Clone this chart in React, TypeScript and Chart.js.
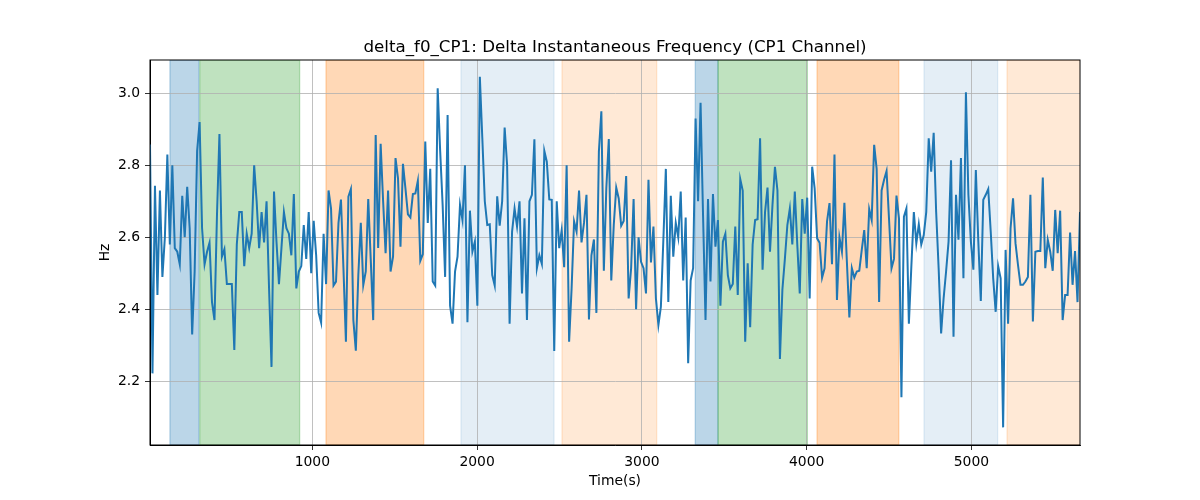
import { useEffect, useRef } from "react";
import { Chart, registerables } from "chart.js";

Chart.register(...registerables);

// sampling of the delta f0 series (seconds)
const T0 = 15;
const DT = 15.05;

const DELTA_F0 = [
    2.858, 2.222, 2.743, 2.44, 2.73, 2.49, 2.6, 2.83, 2.58, 2.8,
    2.57, 2.56, 2.525, 2.715, 2.6, 2.74, 2.625, 2.33, 2.505, 2.84,
    2.92, 2.625, 2.525, 2.56, 2.585, 2.42, 2.37, 2.66, 2.887, 2.546,
    2.567, 2.47, 2.47, 2.47, 2.287, 2.58, 2.67, 2.67, 2.52, 2.61,
    2.57, 2.61, 2.8, 2.7, 2.57, 2.67, 2.586, 2.7, 2.46, 2.24,
    2.727, 2.588, 2.47, 2.57, 2.67, 2.625, 2.61, 2.55, 2.72, 2.458,
    2.505, 2.52, 2.634, 2.54, 2.67, 2.5, 2.646, 2.55, 2.39, 2.363,
    2.61, 2.47, 2.73, 2.68, 2.466, 2.477, 2.64, 2.705, 2.514, 2.31,
    2.713, 2.734, 2.37, 2.285, 2.495, 2.64, 2.467, 2.505, 2.706, 2.54,
    2.37, 2.884, 2.57, 2.86, 2.7, 2.556, 2.73, 2.505, 2.546, 2.82,
    2.764, 2.574, 2.804, 2.736, 2.664, 2.655, 2.72, 2.722, 2.757, 2.535,
    2.553, 2.866, 2.64, 2.79, 2.477, 2.466, 3.014, 2.84, 2.69, 2.49,
    2.94, 2.41, 2.36, 2.505, 2.546, 2.69, 2.648, 2.8, 2.364, 2.674,
    2.56, 2.588, 2.41, 3.046, 2.875, 2.7, 2.634, 2.636, 2.495, 2.466,
    2.714, 2.632, 2.7, 2.905, 2.8, 2.36, 2.616, 2.68, 2.63, 2.7,
    2.444, 2.653, 2.37, 2.7, 2.718, 2.872, 2.514, 2.55, 2.526, 2.84,
    2.81, 2.705, 2.704, 2.284, 2.7, 2.57, 2.62, 2.517, 2.8, 2.31,
    2.458, 2.644, 2.616, 2.73, 2.586, 2.64, 2.718, 2.372, 2.55, 2.594,
    2.39, 2.838, 2.95, 2.507, 2.736, 2.873, 2.48, 2.634, 2.738, 2.708,
    2.632, 2.645, 2.77, 2.43, 2.514, 2.706, 2.4, 2.6, 2.532, 2.514,
    2.444, 2.76, 2.53, 2.63, 2.43, 2.356, 2.407, 2.593, 2.79, 2.42,
    2.715, 2.546, 2.64, 2.6, 2.727, 2.48, 2.655, 2.25, 2.48, 2.514,
    2.93, 2.7, 2.974, 2.662, 2.37, 2.706, 2.477, 2.72, 2.574, 2.648,
    2.41, 2.588, 2.61, 2.495, 2.458, 2.47, 2.63, 2.44, 2.762, 2.73,
    2.31, 2.528, 2.35, 2.58, 2.648, 2.65, 2.875, 2.51, 2.67, 2.738,
    2.56, 2.69, 2.796, 2.73, 2.262, 2.455, 2.54, 2.634, 2.68, 2.58,
    2.727, 2.58, 2.444, 2.706, 2.61, 2.71, 2.43, 2.796, 2.736, 2.597,
    2.585, 2.488, 2.514, 2.644, 2.695, 2.525, 2.83, 2.426, 2.6, 2.56,
    2.696, 2.532, 2.377, 2.514, 2.488, 2.505, 2.507, 2.565, 2.62, 2.514,
    2.678, 2.648, 2.857, 2.79, 2.42, 2.73, 2.76, 2.784, 2.65, 2.514,
    2.54, 2.716, 2.653, 2.156, 2.657, 2.68, 2.36, 2.52, 2.67, 2.583,
    2.636, 2.58, 2.606, 2.67, 2.875, 2.782, 2.89, 2.67, 2.514, 2.333,
    2.43, 2.505, 2.588, 2.814, 2.324, 2.718, 2.593, 2.82, 2.486, 3.003,
    2.718, 2.588, 2.51, 2.787, 2.588, 2.423, 2.704, 2.718, 2.734, 2.616,
    2.486, 2.393, 2.52, 2.486, 2.072, 2.565, 2.36, 2.625, 2.708, 2.583,
    2.523, 2.468, 2.468, 2.477, 2.49, 2.718, 2.366, 2.56, 2.562, 2.562,
    2.766, 2.514, 2.593, 2.56, 2.507, 2.676, 2.556, 2.674, 2.37, 2.44,
    2.44, 2.613, 2.468, 2.562, 2.42, 2.67,
];

// shaded intervals along the time axis
const SPAN_START = [136, 317, 1083, 1902, 2515, 3324, 3462, 4063, 4712, 5216];
const SPAN_END = [312, 923, 1676, 2467, 3090, 3462, 4004, 4559, 5159, 5720];
const SPAN_KIND = ["A", "B", "C", "D", "E", "A", "B", "C", "D", "E"];

const X_TICKS = [1000, 2000, 3000, 4000, 5000];
const Y_TICKS = [2.2, 2.4, 2.6, 2.8, 3.0];
const Y_MIN = 2.023;
const Y_MAX = 3.0925;

const KIND_COLORS: Record<string, string> = {
    A: "rgba(31,119,180,0.3)",
    B: "rgba(44,160,44,0.3)",
    C: "rgba(255,127,14,0.3)",
    D: "rgba(31,119,180,0.12)",
    E: "rgba(255,127,14,0.17)",
};

const FONT = "'DejaVu Sans', sans-serif";

const spansPlugin = {
    id: "spans",
    beforeDraw(chart: Chart) {
        const { ctx, chartArea } = chart;
        const xs = chart.scales.x;
        ctx.save();
        ctx.beginPath();
        ctx.rect(chartArea.left, chartArea.top, chartArea.right - chartArea.left, chartArea.bottom - chartArea.top);
        ctx.clip();
        SPAN_START.forEach((s, i) => {
            const x0 = xs.getPixelForValue(s);
            const x1 = xs.getPixelForValue(SPAN_END[i]);
            const color = KIND_COLORS[SPAN_KIND[i]];
            ctx.fillStyle = color;
            ctx.fillRect(x0, chartArea.top, x1 - x0, chartArea.bottom - chartArea.top);
            ctx.strokeStyle = color;
            ctx.lineWidth = 1.3;
            ctx.strokeRect(x0, chartArea.top, x1 - x0, chartArea.bottom - chartArea.top);
        });
        ctx.restore();
    },
    afterDraw(chart: Chart) {
        const { ctx, chartArea } = chart;
        ctx.save();
        ctx.strokeStyle = "#000";
        ctx.lineWidth = 1;
        ctx.strokeRect(chartArea.left, chartArea.top, chartArea.right - chartArea.left, chartArea.bottom - chartArea.top);

        const cx = (chartArea.left + chartArea.right) / 2;
        const cy = (chartArea.top + chartArea.bottom) / 2;
        ctx.fillStyle = "#000";
        ctx.textAlign = "center";
        ctx.textBaseline = "alphabetic";
        ctx.font = `16.7px ${FONT}`;
        ctx.fillText("delta_f0_CP1: Delta Instantaneous Frequency (CP1 Channel)", cx, chartArea.top - 8);

        ctx.font = `13.9px ${FONT}`;
        ctx.textBaseline = "middle";
        ctx.fillText("Time(s)", cx, 481);

        ctx.translate(105, cy);
        ctx.rotate(-Math.PI / 2);
        ctx.fillText("Hz", 0, 0);
        ctx.restore();
    },
};

export default function App() {
    const canvasRef = useRef<HTMLCanvasElement>(null);
    const chartRef = useRef<Chart | null>(null);

    useEffect(() => {
        if (!canvasRef.current) return;
        if (chartRef.current) chartRef.current.destroy();

        const points = DELTA_F0.map((v, i) => ({ x: T0 + i * DT, y: v }));

        chartRef.current = new Chart(canvasRef.current, {
            type: "line",
            data: {
                datasets: [
                    {
                        data: points,
                        borderColor: "#1f77b4",
                        borderWidth: 2,
                        pointRadius: 0,
                        tension: 0,
                        fill: false,
                    },
                ],
            },
            options: {
                animation: false,
                responsive: false,
                maintainAspectRatio: false,
                layout: { padding: { top: 60, right: 120, left: 0, bottom: 0 } },
                plugins: {
                    legend: { display: false },
                    tooltip: { enabled: false },
                    title: { display: false },
                },
                scales: {
                    x: {
                        type: "linear",
                        min: T0,
                        max: T0 + (DELTA_F0.length - 1) * DT,
                        afterFit: (s: any) => {
                            s.height = 55;
                        },
                        afterBuildTicks: (s: any) => {
                            s.ticks = X_TICKS.map((v) => ({ value: v }));
                        },
                        grid: {
                            color: "#b0b0b0",
                            lineWidth: 0.8,
                            tickColor: "#000",
                            tickLength: 5,
                        },
                        border: { display: true, color: "#000", width: 1 },
                        ticks: {
                            color: "#000",
                            padding: 4,
                            maxRotation: 0,
                            font: { family: FONT, size: 13.9 },
                            callback: (v: any) => String(v),
                        },
                    },
                    y: {
                        type: "linear",
                        min: Y_MIN,
                        max: Y_MAX,
                        afterFit: (s: any) => {
                            s.width = 150;
                        },
                        afterBuildTicks: (s: any) => {
                            s.ticks = Y_TICKS.map((v) => ({ value: v }));
                        },
                        grid: {
                            color: "#b0b0b0",
                            lineWidth: 0.8,
                            tickColor: "#000",
                            tickLength: 5,
                        },
                        border: { display: true, color: "#000", width: 1 },
                        ticks: {
                            color: "#000",
                            padding: 5,
                            font: { family: FONT, size: 13.9 },
                            callback: (v: any) => Number(v).toFixed(1),
                        },
                    },
                },
            },
            plugins: [spansPlugin],
        });

        return () => {
            chartRef.current?.destroy();
            chartRef.current = null;
        };
    }, []);

    return (
        <div style={{ position: "fixed", left: 0, top: 0, width: "1200px", height: "500px", background: "#fff" }}>
            <canvas ref={canvasRef} width={1200} height={500} role="img" aria-label="Delta instantaneous frequency of CP1 channel over time" />
        </div>
    );
}
